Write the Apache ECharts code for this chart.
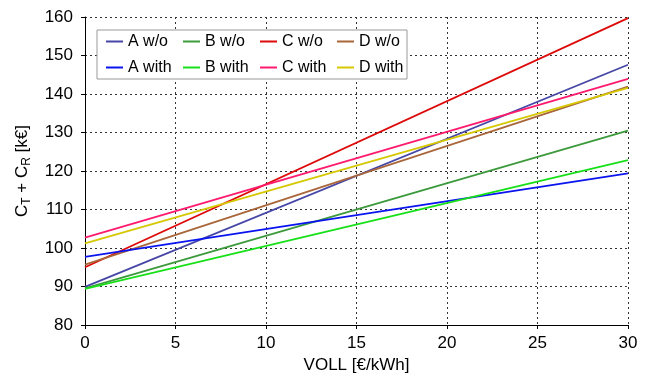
<!DOCTYPE html>
<html>
<head>
<meta charset="utf-8">
<script src="https://cdn.jsdelivr.net/npm/echarts@6/dist/echarts.min.js"></script>
<style>
  html, body { margin: 0; padding: 0; background: #fff; }
  #chart { width: 651px; height: 379px; }
</style>
</head>
<body>
<div id="chart"></div>
<script>
var myChart = echarts.init(document.getElementById('chart'));

// VOLL [€/kWh] at the two ends of each straight line
var voll = [0, 30];

// cost values [k€]
var aWo = [89.9, 147.6];
var bWo = [89.5, 130.5];
var cWo = [95.0, 159.7];
var dWo = [95.7, 141.9];
var aWith = [97.7, 119.4];
var bWith = [89.4, 122.8];
var cWith = [102.7, 143.9];
var dWith = [101.2, 141.6];

var names = ['A w/o', 'B w/o', 'C w/o', 'D w/o', 'A with', 'B with', 'C with', 'D with'];
var values = [aWo, bWo, cWo, dWo, aWith, bWith, cWith, dWith];
var colors = ['#4646a6', '#3c9a3c', '#dd0a0a', '#a8663a', '#0a14ee', '#18e018', '#ff1a6e', '#d6c800'];

var font = 'Liberation Sans, Arial, sans-serif';

var series = names.map(function (name, i) {
    return {
        name: name,
        type: 'line',
        symbol: 'none',
        data: voll.map(function (x, j) { return [x, values[i][j]]; }),
        lineStyle: { width: 1.8, color: colors[i] },
        itemStyle: { color: colors[i] },
        z: 3
    };
});

myChart.setOption({
    animation: false,
    textStyle: { fontFamily: font },
    grid: {
        left: 85,
        right: 23,
        top: 17,
        bottom: 53
    },
    legend: {
        data: names,
        left: 97,
        top: 30,
        width: 305,
        orient: 'horizontal',
        icon: 'rect',
        itemWidth: 17,
        itemHeight: 2,
        itemGap: 7,
        padding: [2, 0, 2, 9],
        backgroundColor: '#fff',
        borderColor: '#999',
        borderWidth: 1,
        textStyle: {
            fontFamily: font,
            fontSize: 16,
            color: '#000',
            width: 48,
            height: 19,
            lineHeight: 19
        }
    },
    xAxis: {
        type: 'value',
        min: 0,
        max: 30,
        interval: 5,
        name: 'VOLL [€/kWh]',
        nameLocation: 'middle',
        nameGap: 32,
        nameTextStyle: { fontFamily: font, fontSize: 17, color: '#000' },
        axisLine: { lineStyle: { color: '#000', width: 1 } },
        axisTick: { length: 4, lineStyle: { color: '#000' } },
        axisLabel: { fontFamily: font, fontSize: 17, color: '#000', margin: 10 },
        splitLine: { show: true, lineStyle: { color: '#333', type: [2, 3], width: 1 } }
    },
    yAxis: {
        type: 'value',
        min: 80,
        max: 160,
        interval: 10,
        name: '{a|C}{s|T}{a| + C}{s|R}{a| [k€]}',
        nameLocation: 'middle',
        nameRotate: 90,
        nameGap: 52,
        nameTextStyle: {
            rich: {
                a: { fontFamily: font, fontSize: 17, color: '#000' },
                s: { fontFamily: font, fontSize: 12, color: '#000', padding: [9, 0, 0, 0] }
            }
        },
        axisLine: { show: true, lineStyle: { color: '#000', width: 1 } },
        axisTick: { show: true, length: 4, lineStyle: { color: '#000' } },
        axisLabel: { fontFamily: font, fontSize: 17, color: '#000', margin: 12 },
        splitLine: { show: true, lineStyle: { color: '#333', type: [2, 3], width: 1 } }
    },
    series: series
});
</script>
</body>
</html>
